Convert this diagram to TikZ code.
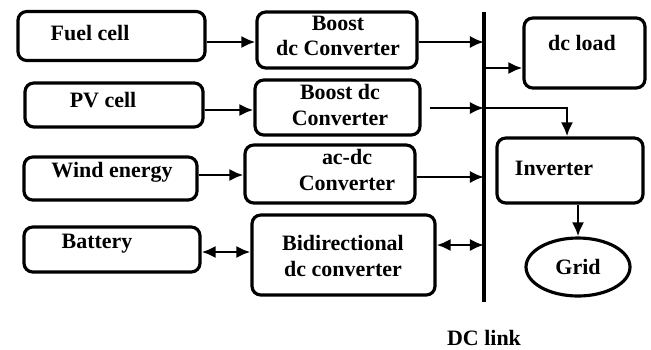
\documentclass[tikz,border=0pt]{standalone}
\usepackage{fontspec}
\newfontfamily\blockfont{Liberation Serif}
\usetikzlibrary{arrows.meta, calc, positioning, shapes.geometric}
\tikzset{
>={Latex[length=8pt, width=7pt]}, % solid triangular heads
blk/.style={draw, line width=1.8pt, rounded corners=5pt}, % source and converter boxes
txt/.style={font=\blockfont\fontsize{12.5}{14.5}\selectfont\bfseries, align=center, inner sep=0pt},
wire/.style={line width=1.6pt},
}

\begin{document}
\begin{tikzpicture}[x=0.02cm, y=-0.02cm]
  \useasboundingbox (0,0) rectangle (651,349);

  % sources
  \node[blk, minimum width=187*0.02cm, minimum height=49*0.02cm] (fuel) at (111.5,36) {};
  \node[blk, minimum width=178*0.02cm, minimum height=44*0.02cm] (pv) at (114,105) {};
  \node[blk, minimum width=173*0.02cm, minimum height=43*0.02cm] (wind) at (110.5,178.5) {};
  \node[blk, minimum width=176*0.02cm, minimum height=45*0.02cm] (batt) at (112,249.5) {};

  % converters
  \node[blk, minimum width=160*0.02cm, minimum height=56*0.02cm] (boostA) at (337,40) {};
  \node[blk, minimum width=165*0.02cm, minimum height=55*0.02cm] (boostB) at (337.5,107.5) {};
  \node[blk, minimum width=170*0.02cm, minimum height=58*0.02cm] (acdc) at (330,174) {};
  \node[blk, minimum width=183*0.02cm, minimum height=80*0.02cm] (bidir) at (343.5,255) {};

  % loads
  \node[blk, minimum width=121*0.02cm, minimum height=70*0.02cm] (load) at (584.5,53) {};
  \node[blk, minimum width=146*0.02cm, minimum height=65*0.02cm] (inv) at (570,170.5) {};
  \node[ellipse, draw, line width=1.8pt, minimum width=104*0.02cm, minimum height=58*0.02cm] (grid) at (578,267) {};

  % labels
  \node[txt] (fuel-t) at (90,33) {Fuel cell};
  \node[txt] (pv-t) at (103,100) {PV cell};
  \node[txt] (wind-t) at (112,172) {Wind energy};
  \node[txt] (batt-t) at (97,244) {Battery};
  \node[txt] (boostA-t) at (338,36) {Boost\\dc Converter};
  \node[txt] (boostB-t) at (340,105) {Boost dc\\Converter};
  \node[txt] (acdc-t) at (347,170) {ac-dc\\Converter};
  \node[txt] (bidir-t) at (343,256) {Bidirectional\\dc converter};
  \node[txt] (load-t) at (582,43) {dc load};
  \node[txt] (inv-t) at (554,168) {Inverter};
  \node[txt] (grid-t) at (578,267) {Grid};
  \node[txt] (link-t) at (484,338) {DC link};

  % dc bus
  \coordinate (top) at (484,12);
  \coordinate (bot) at (484,302);
  \draw[line width=1.9pt] (top) -- (bot);
  \coordinate (busA) at (484,42);
  \coordinate (busL) at (484,68);
  \coordinate (busB) at (484,108);
  \coordinate (busC) at (484,177);
  \coordinate (busD) at (484,245);

  \draw[wire, ->] (fuel.east |- busA) -- (boostA.west |- busA);
  \draw[wire, ->] (pv.east |- 0,110) -- (boostB.west |- 0,110);
  \draw[wire, ->] (wind.east |- 0,175) -- (acdc.west |- 0,175);
  \draw[wire, <->] (batt.east |- 0,252) -- (bidir.west |- 0,252);

  \draw[wire, ->] (boostA.east |- busA) -- (busA);
  \draw[wire, ->] ($(boostB.east |- busB)+(8,0)$) -- (busB);
  \draw[wire, ->] (acdc.east |- busC) -- (busC);
  \draw[wire, <->] (bidir.east |- busD) -- (busD);

  \draw[wire, ->] (busL) -- (load.west |- busL);
  \draw[wire, ->] (busB) -| ($(inv.north)+(-3,0)$);
  \draw[wire, ->] (inv.south -| grid.north) -- (grid.north);
\end{tikzpicture}
\end{document}
